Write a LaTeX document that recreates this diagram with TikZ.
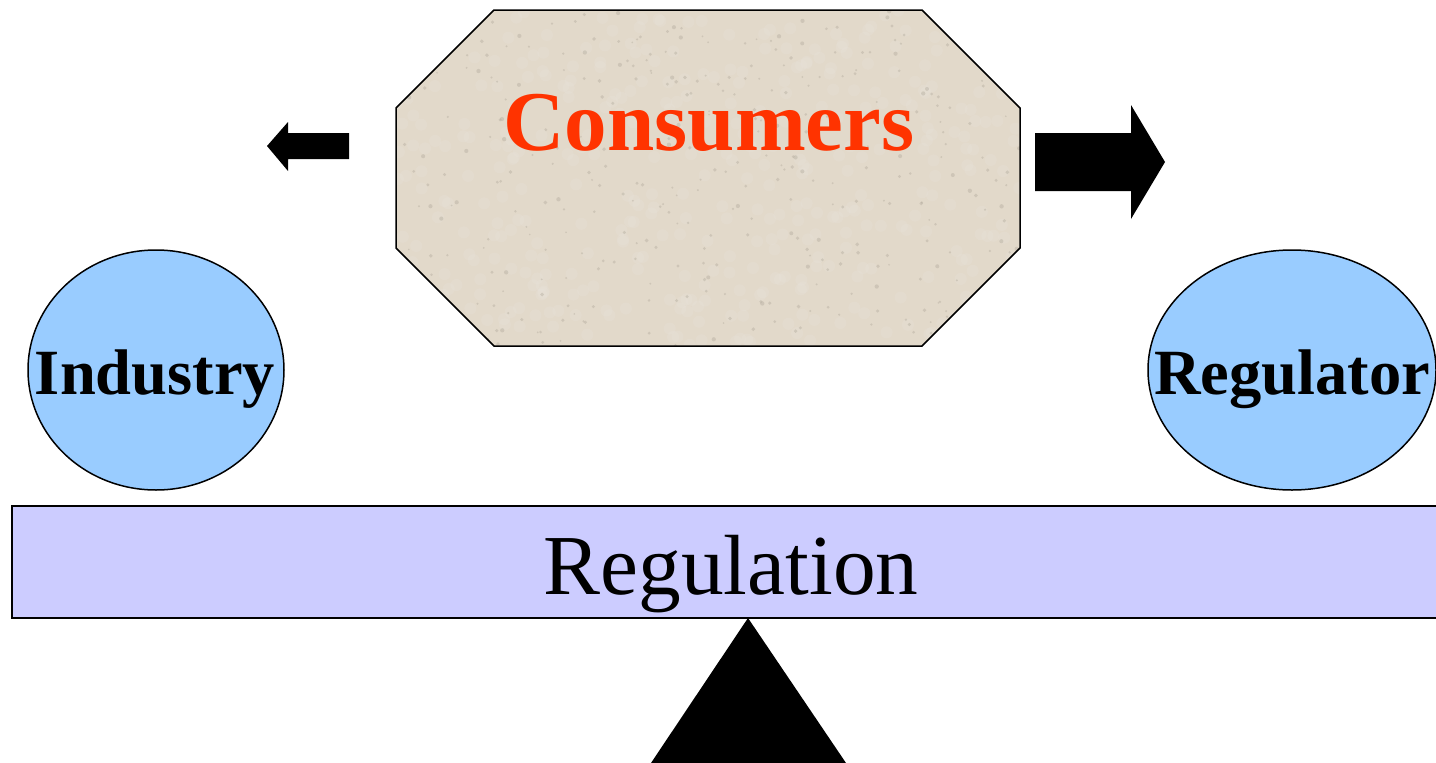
\documentclass[tikz,border=0pt]{standalone}
\usepackage{fontspec}
\setmainfont{Liberation Serif}
\definecolor{octfill}{HTML}{E2D9CA}
\definecolor{speckdark}{HTML}{A9A294}
\definecolor{specklight}{HTML}{E8E2DA}
\definecolor{blobfill}{HTML}{99CCFF}
\definecolor{barfill}{HTML}{CCCCFF}
\definecolor{consred}{HTML}{FF3300}
\tikzset{
 outline/.style={draw=black,line width=1.5pt},
 blob/.style={outline,fill=blobfill},
 lab/.style={inner sep=0pt,anchor=base,font=\bfseries\fontsize{64.5pt}{64.5pt}\selectfont},
 biglab/.style={inner sep=0pt,anchor=base,font=\fontsize{85.4pt}{85.4pt}\selectfont},
}
\begin{document}
\begin{tikzpicture}[x=1pt,y=-1pt,line join=miter]
\useasboundingbox (0,0) rectangle (1436,763);
\fill[white] (0,0) rectangle (1436,763);
% octagon with speckled stone texture
\fill[octfill] (494,10) -- (922,10) -- (1020,108) -- (1020,248) -- (922,346) -- (494,346) -- (396,248) -- (396,108) -- cycle;
\begin{scope}
\clip (494,10) -- (922,10) -- (1020,108) -- (1020,248) -- (922,346) -- (494,346) -- (396,248) -- (396,108) -- cycle;
\pgfmathsetseed{4217}
\foreach \i in {1,...,400}{
  \pgfmathsetmacro{\px}{396+rnd*624}
  \pgfmathsetmacro{\py}{10+rnd*336}
  \fill[specklight,opacity=.3] (\px,\py) circle (6pt);
}
\foreach \i in {1,...,380}{
  \pgfmathsetmacro{\px}{396+rnd*624}
  \pgfmathsetmacro{\py}{10+rnd*336}
  \pgfmathsetmacro{\pr}{0.9+rnd*1.3}
  \fill[speckdark,opacity=.35] (\px,\py) circle (\pr pt);
}
\end{scope}
\draw[outline] (494,10) -- (922,10) -- (1020,108) -- (1020,248) -- (922,346) -- (494,346) -- (396,248) -- (396,108) -- cycle;
\node[inner sep=0pt,anchor=base,text=consred,font=\bfseries\fontsize{85pt}{85pt}\selectfont] (cons) at (709,150) {Consumers};
% arrows
\fill[black] (349,133) -- (288,133) -- (288,122) -- (267,146) -- (288,171) -- (288,159) -- (349,159) -- cycle;
\fill[black] (1035,133) -- (1131,133) -- (1131,105) -- (1165,162) -- (1131,219) -- (1131,191) -- (1035,191) -- cycle;
% circles
\draw[blob] (156,370) ellipse [x radius=128,y radius=120];
\node[lab] (ind) at (155,394) {Industry};
\draw[blob] (1292,370) ellipse [x radius=144,y radius=120];
\node[lab] (reg) at (1292,394) {Regulator};
% bar
\draw[outline,fill=barfill] (12,506) rectangle (1442,618);
\node[biglab] (rgl) at (731,594) {Regulation};
% fulcrum
\fill[black] (748,618) -- (846,763) -- (651,763) -- cycle;
\end{tikzpicture}
\end{document}
